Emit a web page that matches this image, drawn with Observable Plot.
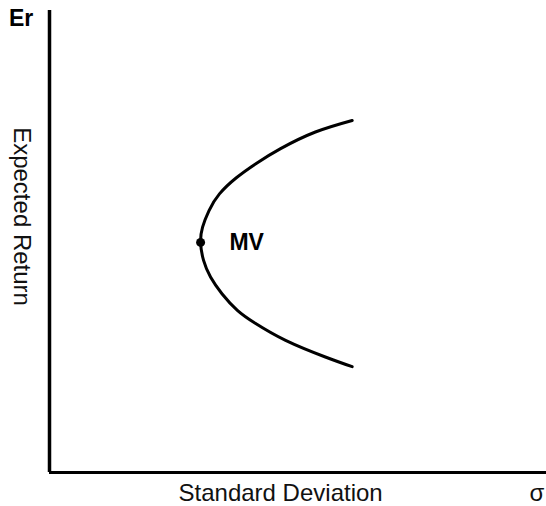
<!DOCTYPE html>
<html>
<head>
<meta charset="utf-8">
<script src="https://cdn.jsdelivr.net/npm/d3@7"></script>
<script src="https://cdn.jsdelivr.net/npm/@observablehq/plot@0.6"></script>
<style>
  html, body { margin: 0; padding: 0; background: #fff; }
</style>
</head>
<body>
<div id="chart"></div>
<script>
// Frontier points (standard deviation, expected return)
const frontierSigma = [60.9, 53.5, 46.5, 41.6, 37.6, 34.2, 32.1, 30.8, 30.4, 31.0, 32.4, 34.7, 37.8, 41.4, 47.5, 55.5, 60.9];
const frontierReturn = [76.2, 73.7, 70.1, 66.9, 63.8, 60.3, 56.7, 53.1, 49.8, 45.9, 42.3, 38.7, 35.1, 32.3, 28.6, 25.0, 22.9];

// Minimum-variance point
const mvPoint = [{sigma: 30.4, ret: 49.8, label: "MV"}];

// Axis labels
const xTitle = "Standard Deviation";
const yTitle = "Expected Return";
const xSymbol = "σ";
const ySymbol = "Er";

const frontier = frontierSigma.map((s, i) => ({sigma: s, ret: frontierReturn[i]}));
const font = "Liberation Sans, Arial, Helvetica, sans-serif";

const chart = Plot.plot({
  width: 546,
  height: 506,
  marginLeft: 49,
  marginRight: 0,
  marginTop: 10,
  marginBottom: 34,
  x: {domain: [0, 100], axis: null},
  y: {domain: [0, 100], axis: null},
  style: {background: "#fff", fontFamily: font, overflow: "visible"},
  marks: [
    Plot.line(frontier, {x: "sigma", y: "ret", curve: "natural", stroke: "#000", strokeWidth: 3}),
    Plot.dot(mvPoint, {x: "sigma", y: "ret", r: 4.5, fill: "#000"}),
    Plot.text(mvPoint, {x: () => 36.2, y: "ret", text: "label", textAnchor: "start", lineAnchor: "middle", fontSize: 23, fontWeight: "bold", fill: "#000"}),
    Plot.ruleX([0], {y1: 0, y2: 100, stroke: "#000", strokeWidth: 3.5}),
    Plot.ruleY([0], {x1: 0, x2: 100, stroke: "#000", strokeWidth: 3}),
    Plot.text([xTitle], {x: () => 46.5, y: () => -4.5, text: d => d, textAnchor: "middle", lineAnchor: "middle", fontSize: 24, fill: "#111"}),
    Plot.text([xSymbol], {x: () => 96.6, y: () => -4.5, text: d => d, textAnchor: "start", lineAnchor: "middle", fontSize: 24, fill: "#111"}),
    Plot.text([yTitle], {x: () => -5.6, y: () => 55.4, text: d => d, rotate: 90, textAnchor: "middle", lineAnchor: "middle", fontSize: 24, fill: "#111"}),
    Plot.text([ySymbol], {x: () => -5.7, y: () => 98.2, text: d => d, textAnchor: "middle", lineAnchor: "middle", fontSize: 23, fontWeight: "bold", fill: "#000"})
  ]
});
document.getElementById("chart").appendChild(chart);
</script>
</body>
</html>
